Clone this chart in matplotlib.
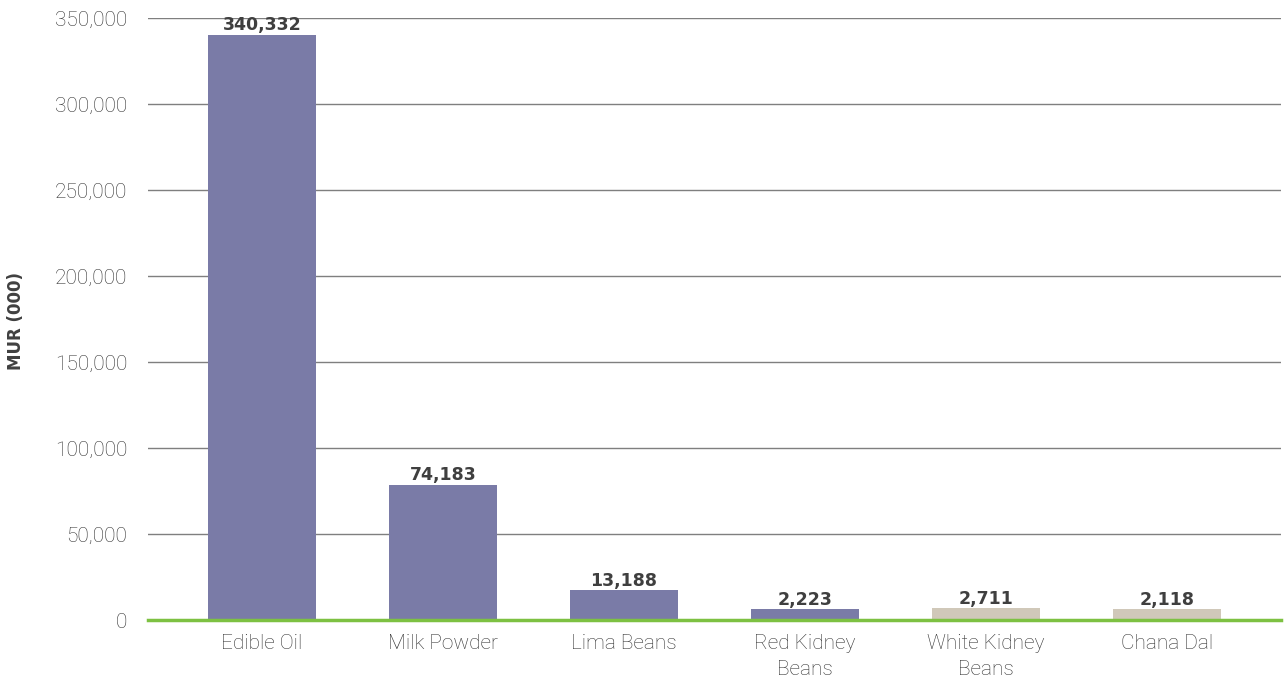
import matplotlib
matplotlib.use("Agg")
import matplotlib.pyplot as plt
from matplotlib.ticker import FuncFormatter

categories = ["Edible Oil", "Milk Powder", "Lima Beans", "Red Kidney\nBeans", "White Kidney\nBeans", "Chana Dal"]
bar_heights = [340300, 78600, 17450, 6400, 7000, 6400]
value_labels = ["340,332", "74,183", "13,188", "2,223", "2,711", "2,118"]
bar_colors = ["#7A7BA7", "#7A7BA7", "#7A7BA7", "#7A7BA7", "#D0C8B9", "#D0C8B9"]
yticks = [0, 50000, 100000, 150000, 200000, 250000, 300000, 350000]

fig = plt.figure(figsize=(12.85, 6.84), dpi=100)
ax = fig.add_axes([148/1285, 1-620.3/684, (1281-148)/1285, (620.3-18.3)/684])

x = list(range(len(categories)))
ax.bar(x, bar_heights, width=0.6, color=bar_colors, zorder=3)

for xi, h, lab in zip(x, bar_heights, value_labels):
    ax.annotate(lab, (xi, h), xytext=(0, 0.5), textcoords="offset points",
                ha="center", va="bottom", fontsize=12.5, fontweight="bold",
                color="#3F3F3F", family=["DejaVu Sans"], zorder=4)

ax.set_ylim(0, 350000)
ax.set_xlim(-0.63, 5.63)
ax.set_yticks(yticks)
ax.yaxis.set_major_formatter(FuncFormatter(lambda v, p: f"{int(v):,}"))
ax.grid(axis="y", color="#7F7F7F", linewidth=1.0, zorder=0)
ax.set_xticks(x)
ax.set_xticklabels(categories, linespacing=1.45)
for lab in ax.get_xticklabels() + ax.get_yticklabels():
    lab.set_fontfamily(["Roboto", "DejaVu Sans"])
    lab.set_fontweight("light")
    lab.set_fontsize(15)
    lab.set_color("#333333")
ax.tick_params(axis="both", length=0)
ax.tick_params(axis="x", pad=10)
ax.tick_params(axis="y", pad=15)
for s in ["top", "right", "left"]:
    ax.spines[s].set_visible(False)
ax.spines["bottom"].set_color("#7DC142")
ax.spines["bottom"].set_linewidth(2.5)
ax.spines["bottom"].set_zorder(5)

fig.text(16/1285, 1-321/684, "MUR (000)", rotation=90, ha="center", va="center",
         fontsize=12, fontweight="bold", color="#404040",
         family=["DejaVu Sans"])

fig.savefig("out.png", dpi=100)
